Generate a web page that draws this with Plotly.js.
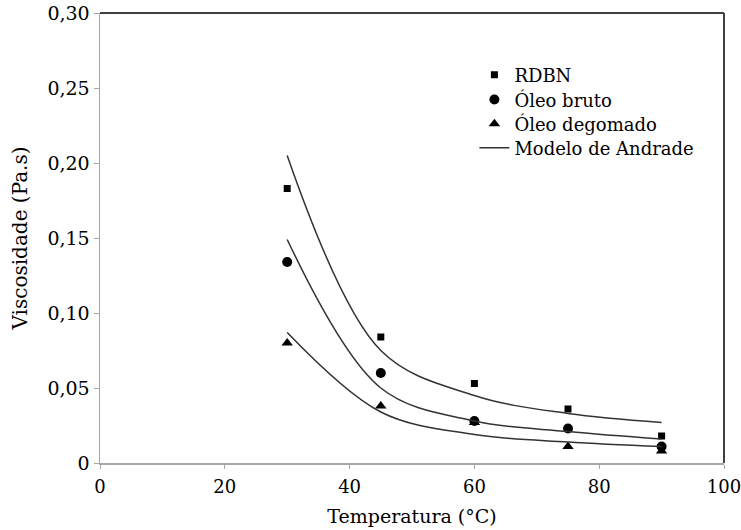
<!DOCTYPE html>
<html>
<head>
<meta charset="utf-8">
<script src="https://cdn.plot.ly/plotly-3.0.1.min.js"></script>
<style>html,body{margin:0;padding:0;background:#fff;}#chart{width:741px;height:530px;}</style>
</head>
<body>
<div id="chart"></div>
<script>
// Experimental data
const temperatura = [30, 45, 60, 75, 90];
const rdbn = [0.183, 0.084, 0.053, 0.036, 0.018];
const oleoBruto = [0.134, 0.060, 0.028, 0.023, 0.011];
const oleoDegomado = [0.080, 0.038, 0.027, 0.011, 0.008];
// Andrade model curves
const modeloRdbn = [0.205, 0.075, 0.045, 0.033, 0.027];
const modeloBruto = [0.149, 0.050, 0.028, 0.021, 0.016];
const modeloDegomado = [0.087, 0.034, 0.019, 0.014, 0.011];
// Axis ticks
const xTicks = [0, 20, 40, 60, 80, 100];
const yTickVals = [0, 0.05, 0.10, 0.15, 0.20, 0.25, 0.30];
const yTickText = ['0', '0,05', '0,10', '0,15', '0,20', '0,25', '0,30'];

const FONT = 'DejaVu Serif';
const lineStyle = {color: '#333333', width: 1.5, shape: 'spline', smoothing: 1};

const traces = [
  {x: temperatura, y: rdbn, name: 'RDBN', mode: 'markers', type: 'scatter', legend: 'legend',
   marker: {symbol: 'square', size: 7, color: '#000'}},
  {x: temperatura, y: oleoBruto, name: 'Óleo bruto', mode: 'markers', type: 'scatter', legend: 'legend2',
   marker: {symbol: 'circle', size: 10, color: '#000'}},
  {x: temperatura, y: oleoDegomado, name: 'Óleo degomado', mode: 'markers', type: 'scatter', legend: 'legend3',
   marker: {symbol: 'triangle-up', size: 10, color: '#000'}},
  {x: temperatura, y: modeloRdbn, name: 'Modelo de Andrade', mode: 'lines', type: 'scatter', legend: 'legend4',
   line: lineStyle},
  {x: temperatura, y: modeloBruto, name: 'Modelo de Andrade', mode: 'lines', type: 'scatter',
   line: lineStyle, showlegend: false},
  {x: temperatura, y: modeloDegomado, name: 'Modelo de Andrade', mode: 'lines', type: 'scatter',
   line: lineStyle, showlegend: false}
];

function leg(y) {
  return {x: 0.6, y: y, xanchor: 'left', yanchor: 'middle',
          font: {family: FONT, size: 18, color: '#000'},
          bgcolor: 'rgba(0,0,0,0)', borderwidth: 0};
}

const layout = {
  width: 741, height: 530,
  margin: {l: 100, r: 17, t: 13, b: 67},
  paper_bgcolor: '#fff', plot_bgcolor: '#fff',
  font: {family: FONT, size: 19, color: '#000'},
  showlegend: true,
  legend: leg(0.862),
  legend2: leg(0.807),
  legend3: leg(0.753),
  legend4: leg(0.700),
  xaxis: {
    range: [0, 100], tickvals: xTicks, ticktext: xTicks.map(String),
    showgrid: false, zeroline: false, showline: true, linecolor: '#a6a6a6', linewidth: 1.5,
    ticks: 'outside', ticklen: 4, tickcolor: '#a6a6a6',
    ticklabeloverflow: 'allow', ticklabelstandoff: 3,
    tickfont: {family: FONT, size: 18, color: '#000'},
    title: {text: 'Temperatura (°C)', font: {family: FONT, size: 19, color: '#000'}, standoff: 13}
  },
  yaxis: {
    range: [0, 0.30], tickvals: yTickVals, ticktext: yTickText,
    showgrid: false, zeroline: false, showline: true, linecolor: '#a6a6a6', linewidth: 1.5,
    ticks: 'outside', ticklen: 5, tickcolor: '#a6a6a6',
    tickfont: {family: FONT, size: 19, color: '#000'},
    title: {text: 'Viscosidade (Pa.s)', font: {family: FONT, size: 20, color: '#000'}, standoff: 14}
  },
  shapes: [
    {type: 'line', xref: 'paper', yref: 'paper', x0: 0, x1: 1, y0: 1, y1: 1,
     line: {color: '#404040', width: 2}},
    {type: 'line', xref: 'paper', yref: 'paper', x0: 1, x1: 1, y0: 0, y1: 1,
     line: {color: '#404040', width: 2}}
  ]
};

Plotly.newPlot('chart', traces, layout, {displayModeBar: false, staticPlot: true});
</script>
</body>
</html>
